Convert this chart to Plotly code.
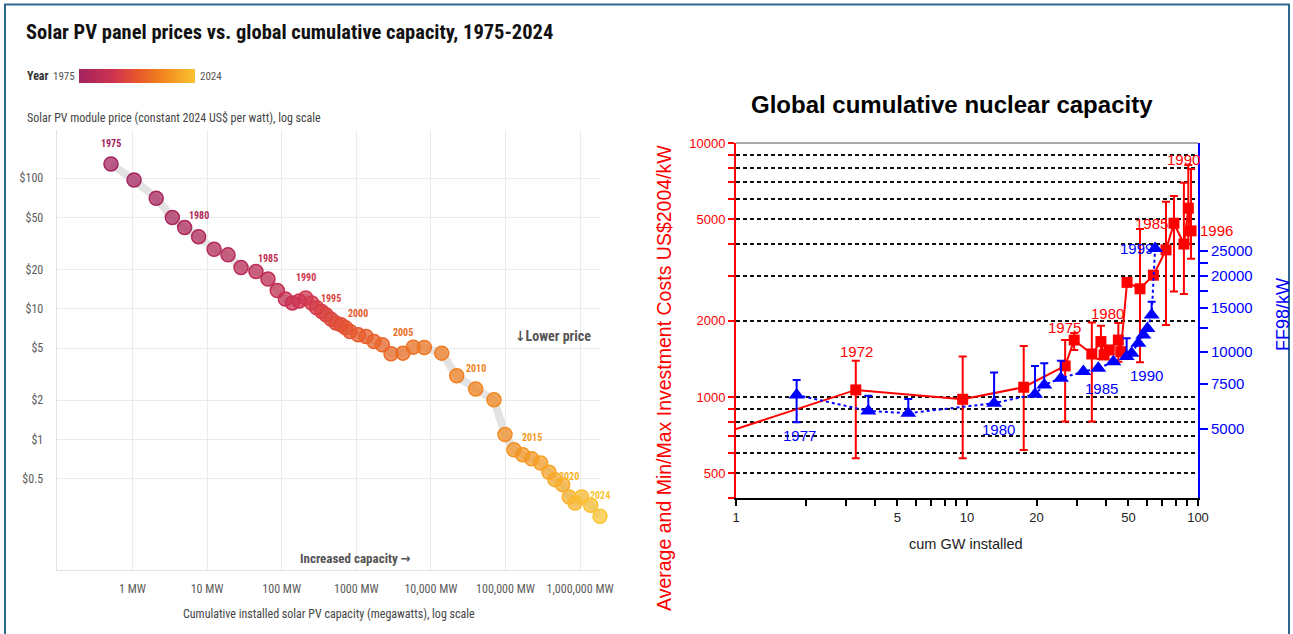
import numpy as np
import plotly.graph_objects as go
from plotly.colors import sample_colorscale, unlabel_rgb

W, H = 1293, 634
def PX(x): return x / W
def PY(y): return 1 - y / H

# ---------------- Solar PV data (left chart) ----------------
solar_years = list(range(1975, 2025))
solar_capacity_mw = [0.515, 1.05, 2.08, 3.42, 5.0, 7.7, 12.4, 19.1, 28.5, 45.2,
                     65.5, 87.3, 112, 139, 172, 210, 253, 295, 344, 393,
                     458, 535, 624, 717, 823, 1065, 1350, 1727, 2232, 2920,
                     4225, 5810, 8160, 13960, 22180, 39900, 70200, 98500, 130000, 170000,
                     224500, 296300, 383000, 461000, 585000, 716000, 855000, 1050000, 1387000, 1849000]
solar_price = [128.6, 97.0, 70.3, 50.0, 41.9, 35.7, 28.6, 25.9, 20.7, 19.3,
               16.9, 13.8, 11.9, 11.1, 11.5, 12.1, 11.1, 10.2, 9.54, 9.0,
               8.34, 7.78, 7.55, 7.16, 6.70, 6.32, 6.14, 5.62, 5.31, 4.53,
               4.58, 5.09, 5.06, 4.58, 3.07, 2.43, 2.01, 1.09, 0.834, 0.764,
               0.711, 0.659, 0.560, 0.492, 0.450, 0.362, 0.326, 0.362, 0.313, 0.258]
solar_label_years = [1975, 1980, 1985, 1990, 1995, 2000, 2005, 2010, 2015, 2020, 2024]
solar_x_ticks = [1, 10, 100, 1000, 1e4, 1e5, 1e6]
solar_x_labels = ["1 MW", "10 MW", "100 MW", "1000 MW", "10,000 MW", "100,000 MW", "1,000,000 MW"]
solar_y_ticks = [0.5, 1, 2, 5, 10, 20, 50, 100]
solar_y_labels = ["$0.5", "$1", "$2", "$5", "$10", "$20", "$50", "$100"]

# ---------------- Nuclear data (right chart) ----------------
nuc_gw = [1.0, 3.30, 9.58, 17.6, 26.6, 29.1, 34.7, 38.0, 39.2, 41.3, 45.2, 46.3,
          49.3, 56.1, 64.1, 72.7, 78.7, 86.9, 90.8, 93.3]
nuc_cost = [748, 1066, 979, 1092, 1325, 1675, 1476, 1652, 1463, 1531, 1675, 1507,
            2826, 2667, 3017, 3795, 4831, 4000, 5534, 4508]
nuc_cost_min = [748, 574, 574, 618, 800, 1531, 800, 1411, 1463, 1531, 1377, 1507,
                2826, 1370, 3017, 1919, 2600, 2543, 4000, 3500]
nuc_cost_max = [748, 1390, 1442, 1587, 1675, 1786, 1962, 1905, 1463, 1531, 1955, 1507,
                2826, 4582, 3017, 5875, 6180, 6966, 8185, 7907]

ff_gw = [1.83, 3.74, 5.57, 13.1, 19.7, 21.6, 25.5, 31.9, 37.0, 43.0, 49.1, 51.6,
         55.2, 58.0, 60.4, 63.0, 65.2]
ff_cost = [6787, 5874, 5752, 6300, 6833, 7433, 7898, 8389, 8649, 9180, 9612, 9908,
           10840, 11690, 12410, 14020, 25640]
ff_cost_min = [5300, 5874, 5752, 6300, 6833, 7433, 7898, 8389, 8649, 9180, 9612, 9908,
               10840, 11690, 12410, 14020, 25640]
ff_cost_max = [7780, 6747, 6547, 8312, 8833, 9047, 9267, 8389, 8649, 9180, 11347, 9908,
               10840, 11690, 12410, 15813, 25640]

nuc_x_ticks = [1, 2, 3, 4, 5, 6, 7, 8, 9, 10, 20, 30, 40, 50, 60, 70, 80, 90, 100]
nuc_x_labels = ["1", "", "", "", "5", "", "", "", "", "10", "20", "", "", "50", "", "", "", "", "100"]
nuc_y_ticks = [400, 500, 600, 700, 800, 900, 1000, 2000, 3000, 4000, 5000, 6000, 7000, 8000, 9000, 10000]
nuc_y_labels = ["", "500", "", "", "", "", "1000", "2000", "", "", "5000", "", "", "", "", "10000"]
ff_y_ticks = [5000, 7500, 10000, 12500, 15000, 17500, 20000, 22500, 25000]
ff_y_labels = ["5000", "7500", "10000", "", "15000", "", "20000", "", "25000"]
K_FF = 6.667  # right-axis / left-axis scale ratio

# ---------------- styles ----------------
FONT_L = "Liberation Sans Narrow, Roboto Condensed, DejaVu Sans Condensed, Arial Narrow, Roboto, sans-serif"
FONT_R = "Liberation Sans, Arial, Helvetica, sans-serif"
RED = "#ff0000"
BLUE = "#0000ff"
solar_colorscale = [[0.0, "rgb(162,35,94)"], [0.3, "rgb(207,51,80)"], [0.5, "rgb(230,86,44)"],
                    [0.72, "rgb(242,132,29)"], [1.0, "rgb(251,196,49)"]]

def year_color(y, alpha=None):
    c = sample_colorscale(solar_colorscale, [(y - 1975) / 49])[0]
    r, g, b = unlabel_rgb(c)
    if alpha is None:
        return f"rgb({int(r)},{int(g)},{int(b)})"
    return f"rgba({int(r)},{int(g)},{int(b)},{alpha})"

fill_cols = [year_color(y, 0.72) for y in solar_years]
line_cols = [year_color(y) for y in solar_years]

fig = go.Figure()

# left chart
fig.add_trace(go.Scatter(x=solar_capacity_mw, y=solar_price, mode="lines", cliponaxis=False,
                         line=dict(color="#e3e3e3", width=8), hoverinfo="skip",
                         showlegend=False, xaxis="x", yaxis="y"))
fig.add_trace(go.Scatter(x=solar_capacity_mw, y=solar_price, mode="markers", cliponaxis=False,
                         marker=dict(size=14, color=fill_cols, line=dict(color=line_cols, width=1.5)),
                         showlegend=False, xaxis="x", yaxis="y"))
# colour legend (colorbar)
fig.add_trace(go.Scatter(x=solar_capacity_mw, y=solar_price, mode="markers", hoverinfo="skip",
                         marker=dict(size=1, opacity=0, color=solar_years, colorscale=solar_colorscale,
                                     cmin=1975, cmax=2024, showscale=True,
                                     colorbar=dict(orientation="h", x=PX(79), xanchor="left",
                                                   y=PY(76), yanchor="middle", len=116, lenmode="pixels",
                                                   thickness=14, thicknessmode="pixels",
                                                   showticklabels=False, ticks="", outlinewidth=0,
                                                   xpad=0, ypad=0)),
                         showlegend=False, xaxis="x", yaxis="y"))

# right chart
fig.add_trace(go.Scatter(x=nuc_gw, y=nuc_cost, mode="lines", line=dict(color=RED, width=2),
                         showlegend=False, xaxis="x2", yaxis="y2"))
fig.add_trace(go.Scatter(x=nuc_gw[1:], y=nuc_cost[1:], mode="markers",
                         marker=dict(symbol="square", size=11, color=RED),
                         error_y=dict(type="data", symmetric=False,
                                      array=[mx - a for mx, a in zip(nuc_cost_max[1:], nuc_cost[1:])],
                                      arrayminus=[a - mn for mn, a in zip(nuc_cost_min[1:], nuc_cost[1:])],
                                      color=RED, thickness=2, width=4),
                         showlegend=False, xaxis="x2", yaxis="y2"))
fig.add_trace(go.Scatter(x=ff_gw, y=ff_cost, mode="lines+markers",
                         line=dict(color=BLUE, width=2, dash="dot"),
                         marker=dict(symbol="triangle-up", size=14, color=BLUE),
                         error_y=dict(type="data", symmetric=False,
                                      array=[mx - a for mx, a in zip(ff_cost_max, ff_cost)],
                                      arrayminus=[a - mn for mn, a in zip(ff_cost_min, ff_cost)],
                                      color=BLUE, thickness=2, width=4),
                         showlegend=False, xaxis="x2", yaxis="y3"))

annotations = []
def txt(x, y, text, size, color, bold=False, font=FONT_L, xanchor="left", angle=0):
    annotations.append(dict(x=x, y=y, xref="paper", yref="paper", text=f"<b>{text}</b>" if bold else text,
                            showarrow=False, xanchor=xanchor, yanchor="middle", textangle=angle,
                            font=dict(family=font, size=size, color=color)))

# left texts
txt(PX(24), PY(32), "Solar PV panel prices vs. global cumulative capacity, 1975-2024", 20.5, "#111", bold=True)
txt(PX(25), PY(76), "Year", 12, "#333", bold=True)
txt(PX(51), PY(76), "1975", 11, "#555")
txt(PX(198), PY(76), "2024", 11, "#555")
txt(PX(25), PY(118), "Solar PV module price (constant 2024 US$ per watt), log scale", 12, "#444")
txt(PX(329), PY(614), "Cumulative installed solar PV capacity (megawatts), log scale", 12, "#444", xanchor="center")
txt(PX(355), PY(558), "Increased capacity →", 13, "#555", bold=True, xanchor="center")
txt(PX(593), PY(336), "↓Lower price", 14, "#555", bold=True, xanchor="right")

for yr in solar_label_years:
    i = solar_years.index(yr)
    annotations.append(dict(x=np.log10(solar_capacity_mw[i]), y=np.log10(solar_price[i]), xref="x", yref="y",
                            text=f"<b>{yr}</b>", showarrow=False, yshift=21, xanchor="center", yanchor="middle",
                            font=dict(family=FONT_L, size=10, color=year_color(yr))))

# right texts
txt(PX(952), PY(105), "Global cumulative nuclear capacity", 24, "#000", bold=True, font=FONT_R, xanchor="center")
txt(PX(966), PY(544), "cum GW installed", 14.5, "#222", font=FONT_R, xanchor="center")
txt(PX(664), PY(378), "Average and Min/Max Investment Costs US$2004/kW", 19.5, RED, font=FONT_R,
    xanchor="center", angle=-90)
txt(PX(1283), PY(315), "FF98/kW", 18, BLUE, font=FONT_R, xanchor="center", angle=-90)

red_labels = [("1972", 1, 1, 38), ("1975", 5, -10, 13), ("1980", 7, 7, 28),
              ("1985", 16, -22, 0), ("1990", 18, -5, 49), ("1996", 19, 25, 0)]
for t, i, dx, dy in red_labels:
    annotations.append(dict(x=np.log10(nuc_gw[i]), y=np.log10(nuc_cost[i]), xref="x2", yref="y2",
                            text=t, showarrow=False, xshift=dx, yshift=dy, xanchor="center", yanchor="middle",
                            font=dict(family=FONT_R, size=15, color=RED)))
blue_labels = [("1977", 0, 3, -41), ("1980", 3, 4, -26), ("1985", 7, 18, -17),
               ("1990", 11, 15, -22), ("1999", 16, -19, 0)]
for t, i, dx, dy in blue_labels:
    annotations.append(dict(x=np.log10(ff_gw[i]), y=np.log10(ff_cost[i]), xref="x2", yref="y3",
                            text=t, showarrow=False, xshift=dx, yshift=dy, xanchor="center", yanchor="middle",
                            font=dict(family=FONT_R, size=15, color=BLUE)))

shapes = [
    dict(type="rect", xref="paper", yref="paper", x0=PX(5), x1=PX(1289), y0=PY(650), y1=PY(4.5),
         line=dict(color="#2b6a8c", width=2), fillcolor="rgba(0,0,0,0)", layer="below"),
    dict(type="line", xref="x2 domain", yref="y2 domain", x0=0, x1=1, y0=1, y1=1,
         line=dict(color="#a9a9a9", width=2), layer="above"),
]

fig.update_layout(
    width=W, height=H, autosize=False, margin=dict(l=0, r=0, t=0, b=0, autoexpand=False),
    paper_bgcolor="white", plot_bgcolor="rgba(0,0,0,0)", showlegend=False,
    annotations=annotations, shapes=shapes,
    xaxis=dict(type="log", range=[-1.016, 6.267], domain=[PX(56.7), PX(600)], anchor="y",
               tickvals=solar_x_ticks, ticktext=solar_x_labels, showgrid=True, gridcolor="#ebebeb",
               gridwidth=1, zeroline=False, showline=True, linecolor="#e3e3e3", linewidth=1,
               ticks="", ticklabelstandoff=8,
               tickfont=dict(family=FONT_L, size=12, color="#5b5b5b")),
    yaxis=dict(type="log", range=[-1, 2.3696], domain=[PY(570), PY(130)], anchor="x",
               tickvals=solar_y_ticks, ticktext=solar_y_labels, showgrid=True, gridcolor="#ebebeb",
               gridwidth=1, zeroline=False, showline=True, linecolor="#e3e3e3", linewidth=1,
               ticks="", ticklabelstandoff=10,
               tickfont=dict(family=FONT_L, size=12, color="#5b5b5b")),
    xaxis2=dict(type="log", range=[0, 2], domain=[PX(736), PX(1198)], anchor="y2",
                tickvals=nuc_x_ticks, ticktext=nuc_x_labels, showgrid=False, zeroline=False,
                showline=True, linecolor="#000", linewidth=2, ticks="outside", ticklen=6,
                tickwidth=1.5, tickcolor="#000",
                tickfont=dict(family=FONT_R, size=13, color="#222")),
    yaxis2=dict(type="log", range=[np.log10(400), 4], domain=[PY(498), PY(143)], anchor="x2",
                tickvals=nuc_y_ticks, ticktext=nuc_y_labels, showgrid=True, gridcolor="#111",
                griddash="4px,3px", gridwidth=1.5, zeroline=False, showline=True, linecolor=RED,
                linewidth=2, ticks="outside", ticklen=6, tickwidth=2, tickcolor=RED,
                tickfont=dict(family=FONT_R, size=13, color=RED)),
    yaxis3=dict(type="log", range=[np.log10(400 * K_FF), np.log10(10000 * K_FF)], overlaying="y2",
                side="right", anchor="x2", tickvals=ff_y_ticks, ticktext=ff_y_labels, showgrid=False,
                zeroline=False, showline=True, linecolor=BLUE, linewidth=2, ticks="outside",
                ticklen=8, tickwidth=2, tickcolor=BLUE,
                tickfont=dict(family=FONT_R, size=15, color=BLUE)),
)

fig.write_html("out.html")
